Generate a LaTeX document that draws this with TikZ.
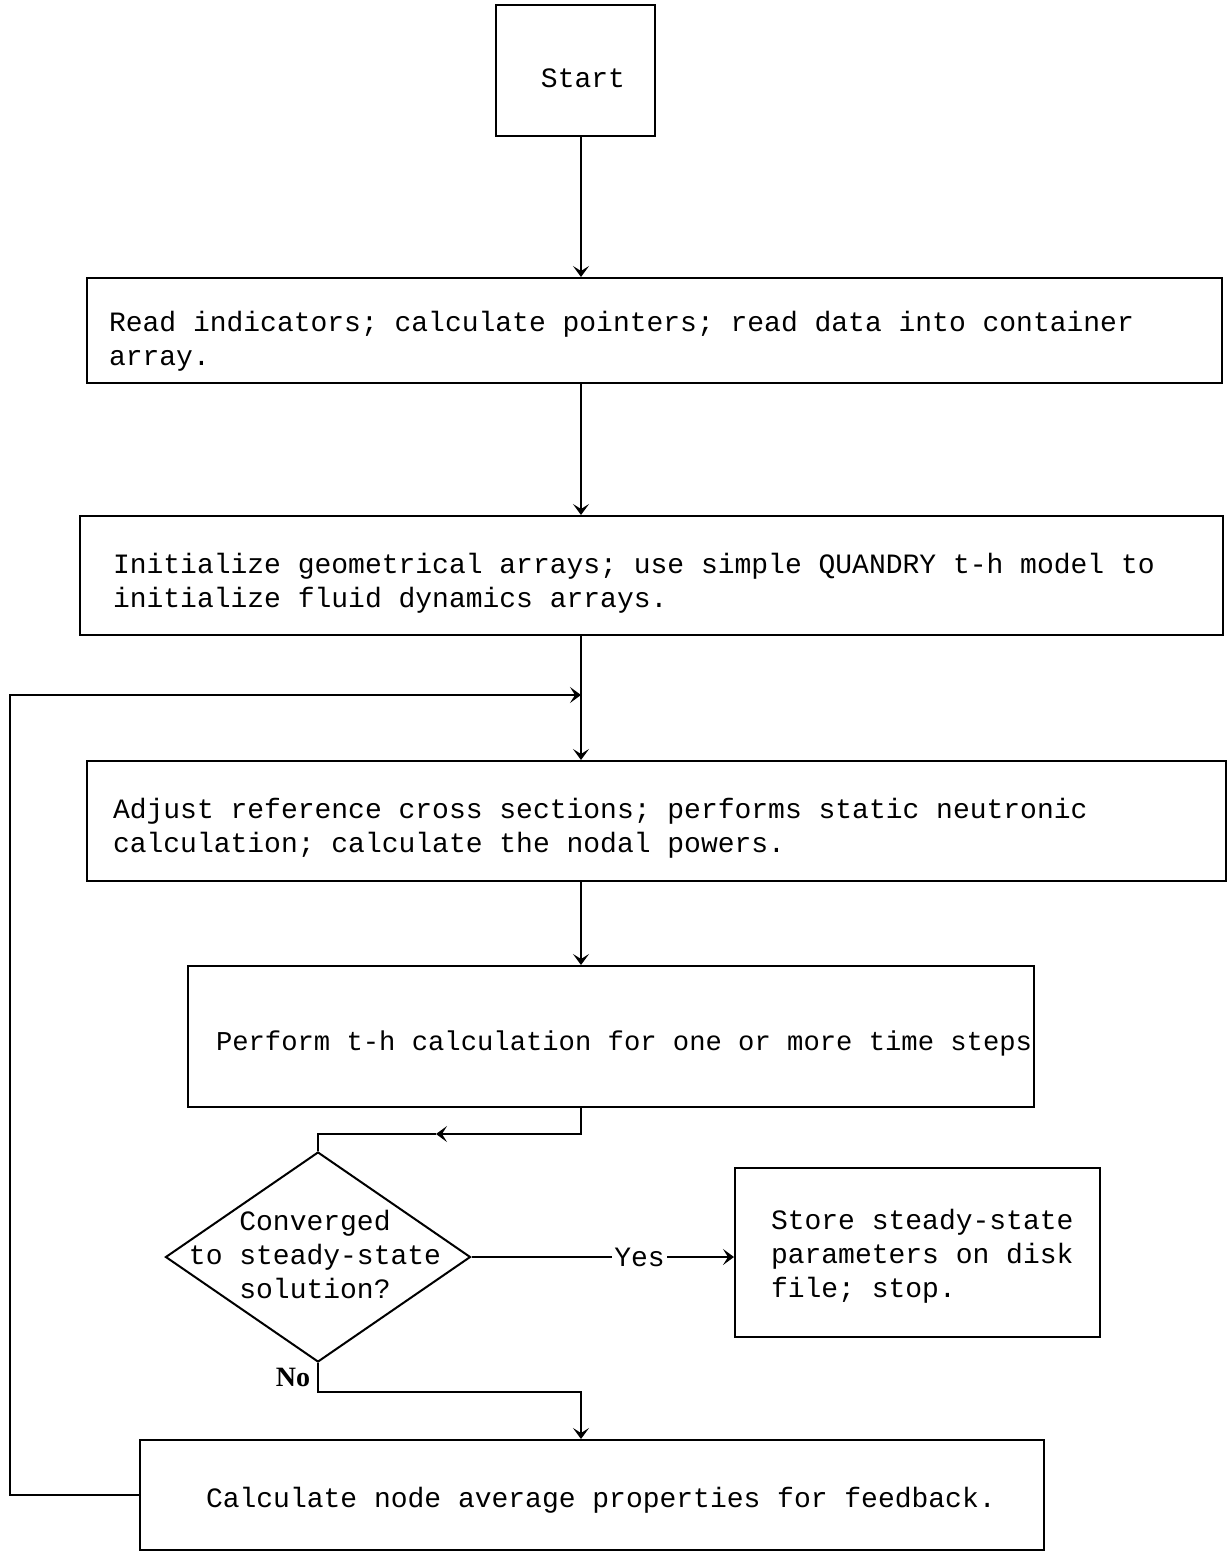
\documentclass[tikz,border=0pt]{standalone}
\usepackage{fontspec}
\setmainfont{Liberation Mono}
\newfontfamily\nofont{Liberation Serif}
\usetikzlibrary{shapes.geometric,arrows.meta}
\begin{document}
\begin{tikzpicture}[x=0.5pt,y=-0.5pt,
  every path/.style={line width=1pt},
  box/.style={draw,rectangle,inner sep=0pt,line width=1pt},
  dia/.style={draw,diamond,inner sep=0pt,line width=1pt},
  txt/.style={inner sep=0pt,font=\fontsize{14pt}{17pt}\selectfont,align=left},
  arr/.style={-{Stealth[length=5.5pt,width=8pt,inset=2.5pt]}}]
\useasboundingbox (0,0) rectangle (1230,1552);
\coordinate (spine) at (581,0);
% boxes
\node[box,minimum width=79.5pt,minimum height=65.5pt] (start) at (575.5,70.5) {};
\node[txt,anchor=center] (startt) at (583,78) {Start};
\node[box,minimum width=567.5pt,minimum height=52.5pt] (b2) at (654.5,330.5) {};
\node[txt,anchor=west] (b2t) at (108,341) {Read indicators; calculate pointers; read data into container\\array.};
\node[box,minimum width=571.5pt,minimum height=59.5pt] (b3) at (651.5,575.5) {};
\node[txt,anchor=west] (b3t) at (112,583) {Initialize geometrical arrays; use simple QUANDRY t-h model to\\initialize fluid dynamics arrays.};
\node[box,minimum width=569.5pt,minimum height=60pt] (b4) at (656.5,821) {};
\node[txt,anchor=west] (b4t) at (112,828) {Adjust reference cross sections; performs static neutronic\\calculation; calculate the nodal powers.};
\node[box,minimum width=423pt,minimum height=70.5pt] (b5) at (611,1036.5) {};
\node[txt,anchor=west,font=\fontsize{13.6pt}{17pt}\selectfont] (b5t) at (215,1043) {Perform t-h calculation for one or more time steps};
\node[dia,minimum width=152.5pt,minimum height=105pt] (d) at (318,1257) {};
\node[txt,align=center] (dt) at (315,1254) {Converged\\to steady-state\\solution?};
\node[box,minimum width=182.5pt,minimum height=84.5pt] (st) at (917.5,1252.5) {};
\node[txt,anchor=west] (stt) at (770,1256) {Store steady-state\\parameters on disk\\file; stop.};
\node[box,minimum width=452pt,minimum height=55pt] (b7) at (592,1495) {};
\node[txt,anchor=west] (b7t) at (205,1500) {Calculate node average properties for feedback.};
% helper coordinates
\coordinate (join) at (581,695);
\coordinate (loopb) at (10,1495);
\coordinate (mid) at (436,1134);
\coordinate (nocorner) at (581,1392);
% connectors
\draw[arr] (spine |- start.south) -- (spine |- b2.north);
\draw[arr] (spine |- b2.south) -- (spine |- b3.north);
\draw[arr] (spine |- b3.south) -- (spine |- b4.north);
\draw[arr] (spine |- b4.south) -- (spine |- b5.north);
\draw[arr] (spine |- b5.south) |- (mid);
\draw (mid) -| (d.north);
\draw[arr] (d.east) -- node[pos=0.64,fill=white,inner sep=1pt,font=\fontsize{14pt}{17pt}\selectfont] (yes) {Yes} (d.east -| st.west);
\draw[arr] (d.south) |- (nocorner) -- (nocorner |- b7.north);
\node[inner sep=0pt,font=\nofont\bfseries\fontsize{14pt}{17pt}\selectfont] (no) at (293,1377) {No};
\draw[arr] (b7.west) -- (loopb) |- (join);
\end{tikzpicture}
\end{document}
